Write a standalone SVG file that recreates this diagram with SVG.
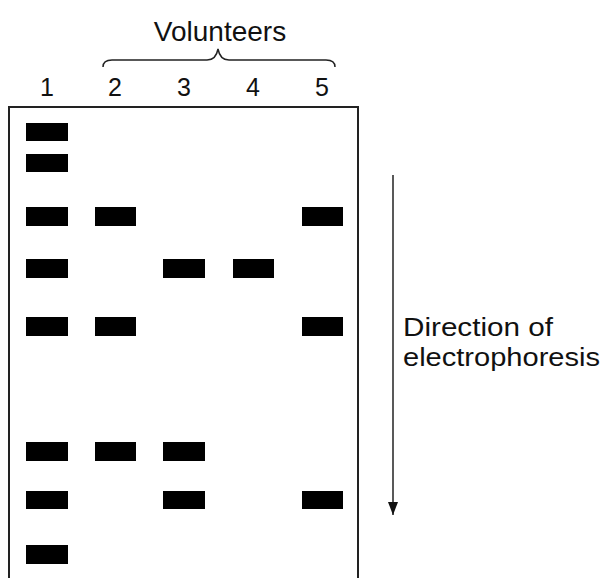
<svg xmlns="http://www.w3.org/2000/svg" width="604" height="578" viewBox="0 0 604 578">
<style>
.t{font-family:"Liberation Sans",Arial,sans-serif;fill:#111}
.band{fill:#000}
</style>
<defs>
<marker id="ah" markerWidth="14" markerHeight="10" refX="13" refY="5" orient="auto" markerUnits="userSpaceOnUse">
<path d="M0,0 L13,5 L0,10 Z" fill="#111"/>
</marker>
</defs>
<rect width="604" height="578" fill="#fff"/>
<g id="title">
<text class="t" x="220" y="41" font-size="28" text-anchor="middle">Volunteers</text>
<path d="M103,67 Q103,60 112,60 L207,60 Q216,60 218,49 Q220,60 229,60 L326,60 Q335,60 335,67" fill="none" stroke="#222" stroke-width="1.5"/>
</g>
<g id="lanes">
<text class="t" x="47" y="96" font-size="25" text-anchor="middle">1</text>
<text class="t" x="115" y="96" font-size="25" text-anchor="middle">2</text>
<text class="t" x="184" y="96" font-size="25" text-anchor="middle">3</text>
<text class="t" x="253" y="96" font-size="25" text-anchor="middle">4</text>
<text class="t" x="322" y="96" font-size="25" text-anchor="middle">5</text>
</g>
<g id="gel">
<path d="M9,578 L9,107 L358,107 L358,578" fill="none" stroke="#222" stroke-width="2"/>
<g id="bands">
<rect class="band" x="26" y="123" width="42" height="18"/>
<rect class="band" x="26" y="154" width="42" height="18"/>
<rect class="band" x="26" y="207" width="42" height="19"/>
<rect class="band" x="95" y="207" width="41" height="19"/>
<rect class="band" x="302" y="207" width="41" height="19"/>
<rect class="band" x="26" y="259" width="42" height="19"/>
<rect class="band" x="163" y="259" width="42" height="19"/>
<rect class="band" x="233" y="259" width="41" height="19"/>
<rect class="band" x="26" y="317" width="42" height="19"/>
<rect class="band" x="95" y="317" width="41" height="19"/>
<rect class="band" x="302" y="317" width="41" height="19"/>
<rect class="band" x="26" y="442" width="42" height="19"/>
<rect class="band" x="95" y="442" width="41" height="19"/>
<rect class="band" x="163" y="442" width="42" height="19"/>
<rect class="band" x="26" y="491" width="42" height="18"/>
<rect class="band" x="163" y="491" width="42" height="18"/>
<rect class="band" x="302" y="491" width="41" height="18"/>
<rect class="band" x="26" y="545" width="42" height="19"/>
</g>
</g>
<g id="connectors">
<line x1="393" y1="175" x2="393" y2="515" stroke="#222" stroke-width="1.5" marker-end="url(#ah)"/>
</g>
<g id="label">
<text class="t" x="403" y="336" font-size="25" textLength="150" lengthAdjust="spacingAndGlyphs">Direction of</text>
<text class="t" x="403" y="366" font-size="25" textLength="197" lengthAdjust="spacingAndGlyphs">electrophoresis</text>
</g>
</svg>
